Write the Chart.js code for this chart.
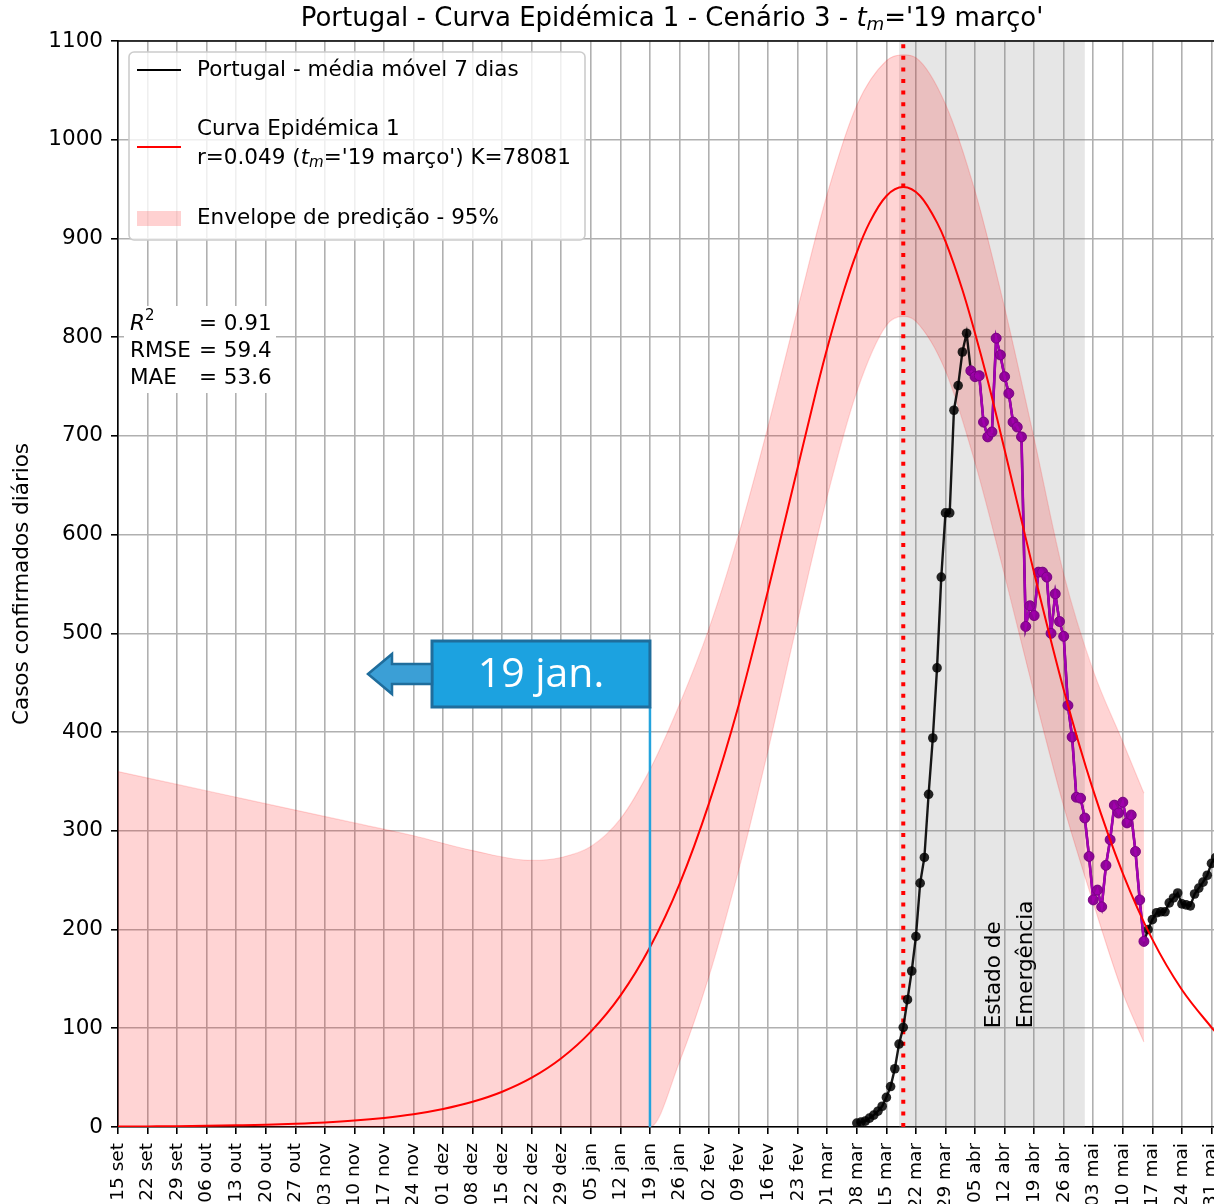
<!DOCTYPE html>
<html>
<head>
<meta charset="utf-8">
<script src="https://cdn.jsdelivr.net/npm/chart.js@4.4.1/dist/chart.umd.min.js"></script>
<style>
  html, body { margin: 0; padding: 0; background: #fff; overflow: hidden; }
  #wrap { position: relative; width: 1214px; height: 1204px; }
</style>
</head>
<body>
<div id="wrap"><canvas id="chart" width="1214" height="1204"></canvas></div>
<script>
// eixo x : dias desde 15 set 2019
var tickLabels = ['15 set', '22 set', '29 set', '06 out', '13 out', '20 out', '27 out', '03 nov', '10 nov',
    '17 nov', '24 nov', '01 dez', '08 dez', '15 dez', '22 dez', '29 dez', '05 jan', '12 jan', '19 jan',
    '26 jan', '02 fev', '09 fev', '16 fev', '23 fev', '01 mar', '08 mar', '15 mar', '22 mar', '29 mar',
    '05 abr', '12 abr', '19 abr', '26 abr', '03 mai', '10 mai', '17 mai', '24 mai', '31 mai'];
var yTicks = [0, 100, 200, 300, 400, 500, 600, 700, 800, 900, 1000, 1100];

// curva epidémica (modelo)
var curveDays = [0, 7, 14, 21, 28, 35, 42, 49, 56, 63, 70, 77, 84, 91, 98, 105, 112, 119, 126, 133, 140,
    147, 154, 161, 165, 168, 172, 175, 178, 182, 186, 190, 194, 196, 200, 203, 206, 210, 217, 224, 231,
    238, 245, 252, 259, 260];
var curveValues = [0.4, 0.6, 0.8, 1.2, 1.7, 2.3, 3.3, 4.6, 6.5, 9.2, 12.9, 18.2, 25.5, 35.7, 49.9, 69.6,
    96.6, 133, 182, 246, 328, 427, 544, 668, 739, 789, 848, 886, 916, 943, 952, 943, 916, 897, 848, 804,
    756, 686, 561, 443, 341, 257, 190, 139, 101, 96];

// envelope de predição 95%
var envDays = [0, 14, 28, 42, 56, 70, 84, 98, 105, 112, 119, 126, 133, 140, 147, 154, 161, 168, 175, 182,
    186, 189, 196, 203, 210, 217, 224, 231, 238, 243];
var envUpper = [360, 347, 334, 321, 308, 295, 280, 270, 273, 284, 312, 362, 428, 505, 600, 710, 829, 945,
    1035, 1080, 1086, 1083, 1036, 948, 830, 697, 560, 462, 390, 338];
var envLower = [0, 0, 0, 0, 0, 0, 0, 0, 0, 0, 0, 0, 66, 153, 260, 382, 513, 639, 745, 812, 821, 816, 766,
    673, 559, 439, 325, 227, 136, 86];

// Portugal - média móvel 7 dias, um valor por dia a partir de 08 mar (dia 175)
var casesStart = 175;
var casesValues = [4, 5, 6, 9, 12, 16, 21, 30, 41, 59, 84, 101, 129, 158, 193, 247, 273, 337, 394, 465, 557,
    622, 622, 726, 751, 785, 804, 766, 760, 761, 714, 699, 704, 799, 782, 760, 743, 714, 709, 699, 507,
    528, 518, 562, 562, 557, 500, 540, 512, 497, 427, 395, 334, 333, 313, 274, 230, 240, 223, 265, 291,
    326, 318, 329, 308, 316, 279, 230, 188, 200, 210, 217, 218, 218, 227, 232, 237, 226, 225, 224, 236,
    242, 248, 255, 267, 273];
// dias destacados a roxo
var highlightFirst = 202;
var highlightLast = 243;

var tmDay = 186;            // 19 março
var emergencyStart = 185;
var emergencyEnd = 229;
var emergencyTextDay = 211;
var markDay = 126;          // 19 jan.

var FONT = '"DejaVu Sans"';
var FS = 21.5;

function pts(days, vals) {
    return days.map(function (d, i) { return {x: d, y: vals[i]}; });
}

var casesPts = casesValues.map(function (v, i) { return {x: casesStart + i, y: v}; });
var highlightPts = casesPts.filter(function (p) { return p.x >= highlightFirst && p.x <= highlightLast; });

/**
 * Escreve um texto com partes em itálico / índice
 * parts : [[texto, estilo]] estilo = n | i | sub | sup
 */
function drawRich(ctx, parts, x, y, size, align) {
    function fontOf(st) {
        if (st === 'i') return 'italic ' + size + 'px ' + FONT;
        if (st === 'sub') return 'italic ' + (size * 0.7) + 'px ' + FONT;
        if (st === 'sup') return (size * 0.7) + 'px ' + FONT;
        return size + 'px ' + FONT;
    }
    var widths = parts.map(function (p) { ctx.font = fontOf(p[1]); return ctx.measureText(p[0]).width; });
    var total = widths.reduce(function (a, b) { return a + b; }, 0);
    var cx = align === 'center' ? x - total / 2 : x;
    ctx.textAlign = 'left';
    ctx.textBaseline = 'middle';
    parts.forEach(function (p, i) {
        ctx.font = fontOf(p[1]);
        var dy = p[1] === 'sub' ? size * 0.25 : (p[1] === 'sup' ? -size * 0.35 : 0);
        ctx.fillText(p[0], cx, y + dy);
        cx += widths[i];
    });
}

var decorPlugin = {
    id: 'decor',
    beforeDatasetsDraw: function (chart) {
        var ctx = chart.ctx, a = chart.chartArea, xs = chart.scales.x;
        ctx.save();
        // estado de emergência
        var x0 = xs.getPixelForValue(emergencyStart), x1 = xs.getPixelForValue(emergencyEnd);
        ctx.fillStyle = 'rgba(128,128,128,0.2)';
        ctx.fillRect(x0, a.top, x1 - x0, a.bottom - a.top);
        // t_m
        var xm = xs.getPixelForValue(tmDay);
        ctx.strokeStyle = '#ff0000';
        ctx.lineWidth = 4;
        ctx.setLineDash([4, 7.6]);
        ctx.beginPath();
        ctx.moveTo(xm, a.bottom);
        ctx.lineTo(xm, a.top);
        ctx.stroke();
        ctx.setLineDash([]);

        // texto rodado
        var xc = xs.getPixelForValue(emergencyTextDay);
        var yb = chart.scales.y.getPixelForValue(100);
        ctx.fillStyle = '#000';
        ctx.font = FS + 'px ' + FONT;
        ctx.textAlign = 'left';
        ctx.textBaseline = 'middle';
        ctx.translate(xc, yb);
        ctx.rotate(-Math.PI / 2);
        ctx.fillText('Estado de', 0, -14);
        ctx.fillText('Emergência', 0, 18);
        ctx.restore();
    },
    afterDraw: function (chart) {
        var ctx = chart.ctx, a = chart.chartArea, xs = chart.scales.x;
        ctx.save();
        // spine de cima
        ctx.strokeStyle = '#000';
        ctx.lineWidth = 1.6;
        ctx.beginPath();
        ctx.moveTo(a.left, a.top);
        ctx.lineTo(a.right, a.top);
        ctx.stroke();

        // titulo
        ctx.fillStyle = '#000';
        drawRich(ctx, [['Portugal - Curva Epidémica 1 - Cenário 3 - ', 'n'], ['t', 'i'], ['m', 'sub'],
            ["='19 março'", 'n']], 672, 19, 26, 'center');

        // legenda
        ctx.beginPath();
        ctx.roundRect(129, 52, 456, 188, 5);
        ctx.fillStyle = 'rgba(255,255,255,0.8)';
        ctx.fill();
        ctx.strokeStyle = '#cccccc';
        ctx.lineWidth = 1.6;
        ctx.stroke();

        ctx.lineWidth = 2.2;
        ctx.strokeStyle = '#000';
        ctx.beginPath(); ctx.moveTo(137, 70); ctx.lineTo(181, 70); ctx.stroke();
        ctx.strokeStyle = '#ff0000';
        ctx.beginPath(); ctx.moveTo(137, 147); ctx.lineTo(181, 147); ctx.stroke();
        ctx.fillStyle = 'rgba(255,0,0,0.18)';
        ctx.fillRect(137, 211, 44, 15);

        ctx.fillStyle = '#000';
        drawRich(ctx, [['Portugal - média móvel 7 dias', 'n']], 197, 70, FS, 'left');
        drawRich(ctx, [['Curva Epidémica 1', 'n']], 197, 129, FS, 'left');
        drawRich(ctx, [['r=0.049 (', 'n'], ['t', 'i'], ['m', 'sub'], ["='19 março') K=78081", 'n']],
            197, 158, FS, 'left');
        drawRich(ctx, [['Envelope de predição - 95%', 'n']], 197, 218, FS, 'left');

        // métricas
        ctx.fillStyle = '#fff';
        ctx.fillRect(124, 306, 152, 87);
        ctx.fillStyle = '#000';
        drawRich(ctx, [['R', 'i'], ['2', 'sup']], 130, 324, FS, 'left');
        drawRich(ctx, [['= 0.91', 'n']], 199, 324, FS, 'left');
        drawRich(ctx, [['RMSE', 'n']], 130, 351, FS, 'left');
        drawRich(ctx, [['= 59.4', 'n']], 199, 351, FS, 'left');
        drawRich(ctx, [['MAE', 'n']], 130, 378, FS, 'left');
        drawRich(ctx, [['= 53.6', 'n']], 199, 378, FS, 'left');

        // marca 19 jan.
        var xj = xs.getPixelForValue(markDay);
        var boxTop = 641, boxBottom = 707, boxLeft = 432;
        ctx.strokeStyle = '#23a3dd';
        ctx.lineWidth = 2.5;
        ctx.beginPath();
        ctx.moveTo(xj, boxBottom);
        ctx.lineTo(xj, a.bottom);
        ctx.stroke();

        ctx.fillStyle = '#1ca2e0';
        ctx.fillRect(boxLeft, boxTop, xj - boxLeft, boxBottom - boxTop);
        ctx.strokeStyle = '#1f6d9c';
        ctx.lineWidth = 3;
        ctx.strokeRect(boxLeft, boxTop, xj - boxLeft, boxBottom - boxTop);

        var ym = (boxTop + boxBottom) / 2;
        ctx.beginPath();
        ctx.moveTo(368, ym);
        ctx.lineTo(392, ym - 20);
        ctx.lineTo(392, ym - 10);
        ctx.lineTo(boxLeft, ym - 10);
        ctx.lineTo(boxLeft, ym + 10);
        ctx.lineTo(392, ym + 10);
        ctx.lineTo(392, ym + 20);
        ctx.closePath();
        ctx.fillStyle = '#3b9fd6';
        ctx.fill();
        ctx.lineWidth = 2.5;
        ctx.stroke();

        ctx.fillStyle = '#fff';
        ctx.font = '41px "Open Sans"';
        ctx.textAlign = 'center';
        ctx.textBaseline = 'middle';
        ctx.fillText('19 jan.', (boxLeft + xj) / 2, ym + 1);
        ctx.restore();
    }
};

var ctx = document.getElementById('chart').getContext('2d');
var chart = new Chart(ctx, {
    type: 'line',
    data: {
        datasets: [{
            label: 'Envelope de predição - 95%',
            data: pts(envDays, envUpper),
            borderColor: 'rgba(255,0,0,0.15)',
            borderWidth: 1.2,
            backgroundColor: 'rgba(255,0,0,0.17)',
            fill: '+1',
            pointRadius: 0,
            cubicInterpolationMode: 'monotone',
            order: 10
        }, {
            label: 'lower',
            data: pts(envDays, envLower),
            borderColor: 'rgba(255,0,0,0.15)',
            borderWidth: 1.2,
            fill: false,
            pointRadius: 0,
            cubicInterpolationMode: 'monotone',
            order: 9
        }, {
            label: 'Portugal - média móvel 7 dias',
            data: casesPts,
            borderColor: 'rgba(0,0,0,0.9)',
            borderWidth: 2.4,
            pointRadius: 4.8,
            pointBackgroundColor: 'rgba(0,0,0,0.85)',
            pointBorderWidth: 0,
            fill: false,
            order: 4
        }, {
            label: 'destaque',
            data: highlightPts,
            borderColor: 'rgb(165,0,180)',
            borderWidth: 2.6,
            pointRadius: 5,
            pointBackgroundColor: 'rgba(160,0,170,0.85)',
            pointBorderColor: 'rgba(120,0,130,0.9)',
            pointBorderWidth: 1,
            fill: false,
            order: 3
        }, {
            label: 'Curva Epidémica 1',
            data: pts(curveDays, curveValues),
            borderColor: '#ff0000',
            borderWidth: 2,
            pointRadius: 0,
            fill: false,
            cubicInterpolationMode: 'monotone',
            order: 2
        }]
    },
    options: {
        responsive: false,
        animation: false,
        events: [],
        devicePixelRatio: 1,
        layout: {autoPadding: false, padding: {top: 41, left: 0, right: 0, bottom: 0}},
        plugins: {
            legend: {display: false},
            title: {display: false},
            tooltip: {enabled: false}
        },
        scales: {
            x: {
                type: 'linear',
                min: 0,
                max: 259.6,
                afterBuildTicks: function (s) {
                    s.ticks = tickLabels.map(function (l, i) { return {value: i * 7}; });
                },
                afterFit: function (s) {
                    s.height = 77;
                    s.paddingLeft = 0;
                    s.paddingRight = 0;
                },
                ticks: {
                    autoSkip: false,
                    maxRotation: 90,
                    minRotation: 90,
                    padding: 9,
                    color: '#000',
                    font: {family: FONT, size: 18.5},
                    callback: function (v, i) { return tickLabels[i]; }
                },
                grid: {color: '#b0b0b0', lineWidth: 1.6, tickColor: '#000', tickLength: 7, tickWidth: 1.6},
                border: {color: '#000', width: 1.6}
            },
            y: {
                min: 0,
                max: 1100,
                afterBuildTicks: function (s) {
                    s.ticks = yTicks.map(function (v) { return {value: v}; });
                },
                afterFit: function (s) {
                    s.width = 118;
                    s.paddingTop = 0;
                    s.paddingBottom = 0;
                },
                ticks: {
                    padding: 8,
                    color: '#000',
                    font: {family: FONT, size: FS},
                    callback: function (v) { return String(v); }
                },
                title: {
                    display: true,
                    text: 'Casos confirmados diários',
                    color: '#000',
                    font: {family: FONT, size: FS, weight: 'normal'},
                    padding: {top: 10, bottom: 0}
                },
                grid: {color: '#b0b0b0', lineWidth: 1.6, tickColor: '#000', tickLength: 7, tickWidth: 1.6},
                border: {color: '#000', width: 1.6}
            }
        }
    },
    plugins: [decorPlugin]
});
</script>
</body>
</html>
